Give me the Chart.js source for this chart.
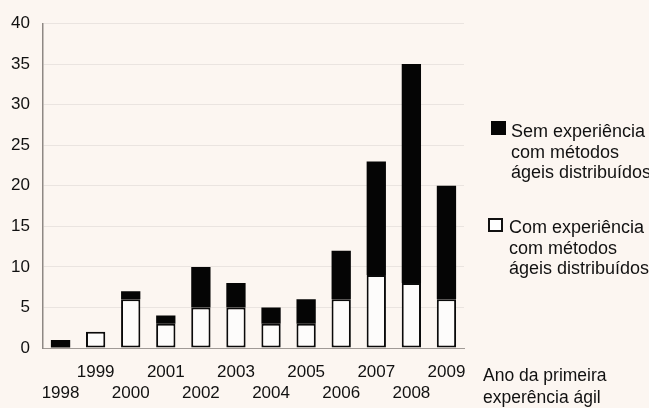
<!DOCTYPE html>
<html>
<head>
<meta charset="utf-8">
<script src="https://cdn.jsdelivr.net/npm/chart.js@4/dist/chart.umd.min.js"></script>
<style>
  html, body { margin: 0; padding: 0; background: #fcf6f1; overflow: hidden; }
  #wrap { position: relative; width: 649px; height: 408px; }
  .note { position: absolute; font-family: "Liberation Sans", Arial, sans-serif; color: #111; white-space: nowrap; }
  .mark { position: absolute; box-sizing: border-box; }
</style>
</head>
<body>
<div id="wrap">
  <canvas id="chart"></canvas>

  <div class="mark" style="left:491px; top:121px; width:15px; height:14px; background:#050505;"></div>
  <div class="note" style="left:511px; top:121px; font-size:18px; line-height:20.5px;">Sem experiência<br>com métodos<br>ágeis distribuídos</div>

  <div class="mark" style="left:488px; top:218px; width:15px; height:14px; border:2px solid #111; background:#fff;"></div>
  <div class="note" style="left:509px; top:217px; font-size:18px; line-height:20.5px;">Com experiência<br>com métodos<br>ágeis distribuídos</div>

  <div class="note" style="left:483px; top:364px; font-size:17.5px; line-height:22px;">Ano da primeira<br>experência ágil</div>
</div>
<script>
// years on the x axis
const years = ['1998', '1999', '2000', '2001', '2002', '2003', '2004', '2005', '2006', '2007', '2008', '2009'];

// projects whose team already had distributed agile experience (white, bottom)
const comExperiencia = [0, 2, 6, 3, 5, 5, 3, 3, 6, 9, 8, 6];

// projects without distributed agile experience (black, on top)
const semExperiencia = [1, 0, 1, 1, 5, 3, 2, 3, 6, 14, 27, 14];

const yTicks = { min: 0, max: 40, step: 5 };

// odd years sit on the upper row, even years on the lower one
const labels = years.map((y, i) => (i % 2 === 1 ? [y, ''] : ['', y]));

const tickFont = { family: '"Liberation Sans", Arial, sans-serif', size: 17, lineHeight: 1.24 };

new Chart(document.getElementById('chart'), {
    type: 'bar',
    data: {
        labels: labels,
        datasets: [
            {
                label: 'Com experiência com métodos ágeis distribuídos',
                data: comExperiencia,
                backgroundColor: '#fdfcfb',
                borderColor: '#0a0a0a',
                borderWidth: 2,
                borderSkipped: false
            },
            {
                label: 'Sem experiência com métodos ágeis distribuídos',
                data: semExperiencia,
                backgroundColor: '#050505',
                borderWidth: 0
            }
        ]
    },
    options: {
        responsive: true,
        maintainAspectRatio: false,
        animation: false,
        layout: { padding: { top: 20, right: 185, left: 0, bottom: 0 } },
        plugins: {
            legend: { display: false },
            tooltip: { enabled: false }
        },
        datasets: {
            bar: { barPercentage: 0.55, categoryPercentage: 1 }
        },
        scales: {
            x: {
                stacked: true,
                grid: { display: false, drawTicks: false },
                border: { display: true, color: '#a09a96', width: 1 },
                ticks: {
                    autoSkip: false,
                    maxRotation: 0,
                    padding: 13.5,
                    color: '#111',
                    font: tickFont
                },
                afterFit: (scale) => { scale.height = 60; }
            },
            y: {
                stacked: true,
                min: yTicks.min,
                max: yTicks.max,
                grid: { color: 'rgba(0,0,0,0.07)', drawTicks: false },
                border: { display: true, color: '#8e8884', width: 1.5 },
                ticks: {
                    stepSize: yTicks.step,
                    padding: 13,
                    color: '#111',
                    font: tickFont
                },
                afterFit: (scale) => { scale.width = 43; }
            }
        }
    }
});
</script>
</body>
</html>
